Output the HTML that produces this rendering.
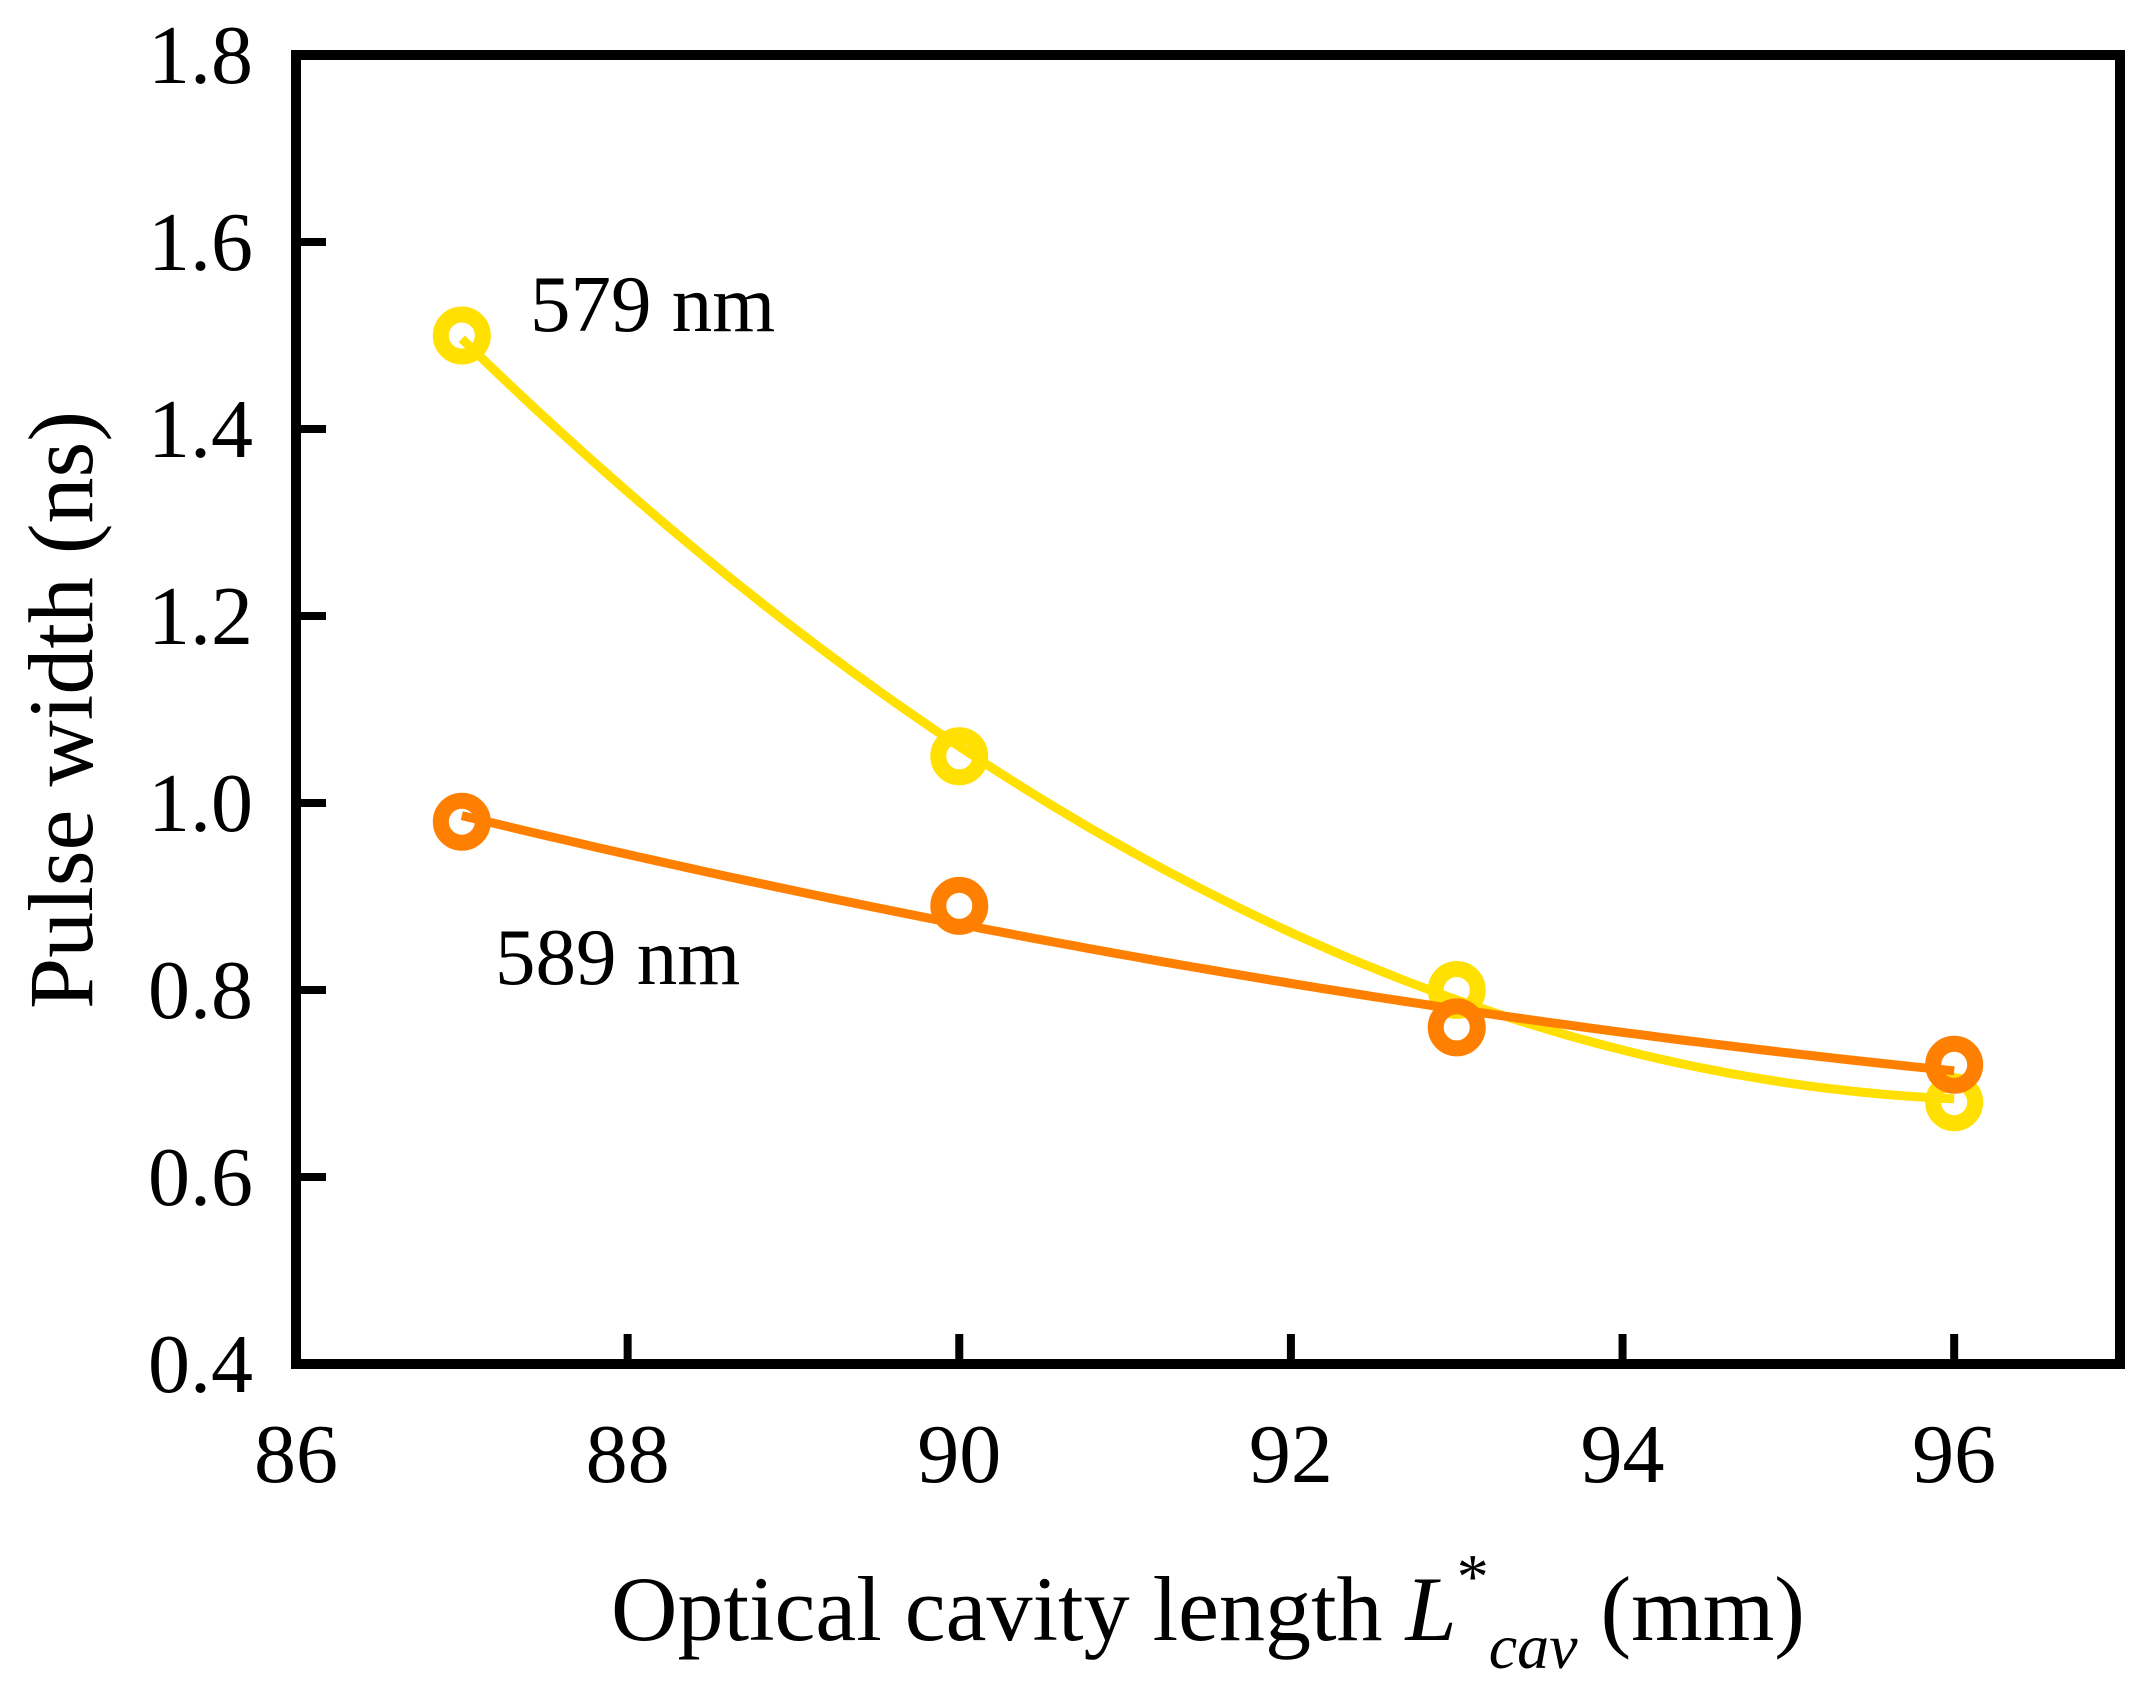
<!DOCTYPE html>
<html><head><meta charset="utf-8"><style>
html,body{margin:0;padding:0;background:#fff;}
svg{display:block;font-family:"Liberation Serif",serif;}
</style></head><body>
<svg id="chart" width="2137" height="1688" viewBox="0 0 2137 1688" xmlns="http://www.w3.org/2000/svg">
<rect width="2137" height="1688" fill="#fff"/>
<g id="series"></g>
<rect x="296" y="55" width="1824" height="1309" fill="none" stroke="#000" stroke-width="10"/>
<g id="axes"></g>
<text x="530" y="331" font-size="81">579 nm</text>
<text x="495" y="984" font-size="81">589 nm</text>
<text x="611" y="1640" font-size="92">Optical cavity length <tspan font-style="italic">L</tspan><tspan dy="-42" font-size="64">*</tspan><tspan dy="70" font-style="italic" font-size="64">cav</tspan><tspan dy="-28"> (mm)</tspan></text>
<text transform="translate(92,710) rotate(-90)" text-anchor="middle" font-size="92">Pulse width (ns)</text>
</svg>
<script>
const xCats = [87, 90, 93, 96];
const y579 = [1.5, 1.05, 0.8, 0.68];
const y589 = [0.98, 0.89, 0.76, 0.72];
const xTicks = [86, 88, 90, 92, 94, 96];
const yTicks = [0.4, 0.6, 0.8, 1.0, 1.2, 1.4, 1.6, 1.8];

const X0 = 296, X1 = 2120, Y0 = 1364, Y1 = 55;
const xMin = 86, xMax = 97, yMin = 0.4, yMax = 1.8;
function sx(v){ return X0 + (v - xMin) / (xMax - xMin) * (X1 - X0); }
function sy(v){ return Y0 - (v - yMin) / (yMax - yMin) * (Y0 - Y1); }
const NS = "http://www.w3.org/2000/svg";

function quadFit(xs, ys){
  let S=[0,0,0,0,0], T=[0,0,0];
  for(let i=0;i<xs.length;i++){
    const x=xs[i]-90, y=ys[i];
    for(let k=0;k<5;k++) S[k]+=Math.pow(x,k);
    for(let k=0;k<3;k++) T[k]+=y*Math.pow(x,k);
  }
  const A=[[S[0],S[1],S[2],T[0]],[S[1],S[2],S[3],T[1]],[S[2],S[3],S[4],T[2]]];
  for(let i=0;i<3;i++){
    for(let j=i+1;j<3;j++){
      const f=A[j][i]/A[i][i];
      for(let k=i;k<4;k++) A[j][k]-=f*A[i][k];
    }
  }
  const c=[0,0,0];
  for(let i=2;i>=0;i--){
    let s=A[i][3];
    for(let k=i+1;k<3;k++) s-=A[i][k]*c[k];
    c[i]=s/A[i][i];
  }
  return x => c[0]+c[1]*(x-90)+c[2]*(x-90)*(x-90);
}

const series = document.getElementById('series');
function drawSeries(ys, color, name){
  const f = quadFit(xCats, ys);
  let d = "";
  const a = xCats[0], b = xCats[xCats.length-1];
  for(let i=0;i<=100;i++){
    const x = a + (b-a)*i/100;
    d += (i?"L":"M") + sx(x).toFixed(1) + "," + sy(f(x)).toFixed(1);
  }
  const p = document.createElementNS(NS,'path');
  p.setAttribute('d', d);
  p.setAttribute('fill','none');
  p.setAttribute('stroke', color);
  p.setAttribute('stroke-width','9');
  
  
  series.appendChild(p);
  xCats.forEach((x,i)=>{
    const c = document.createElementNS(NS,'circle');
    c.setAttribute('cx', sx(x));
    c.setAttribute('cy', sy(ys[i]));
    c.setAttribute('r', '21');
    c.setAttribute('fill', 'none');
    c.setAttribute('stroke', color);
    c.setAttribute('stroke-width', '16');
    
    
    series.appendChild(c);
  });
}
drawSeries(y579, '#FFE000', 'series-579nm');
drawSeries(y589, '#FF8000', 'series-589nm');

const axes = document.getElementById('axes');
xTicks.forEach(v=>{
  const l = document.createElementNS(NS,'line');
  l.setAttribute('x1', sx(v)); l.setAttribute('x2', sx(v));
  l.setAttribute('y1', Y0); l.setAttribute('y2', Y0-30);
  l.setAttribute('stroke','#000'); l.setAttribute('stroke-width','8');
  
  
  axes.appendChild(l);
  const t = document.createElementNS(NS,'text');
  t.setAttribute('x', sx(v)); t.setAttribute('y', 1482);
  t.setAttribute('text-anchor','middle'); t.setAttribute('font-size','84');
  t.textContent = v;
  
  
  axes.appendChild(t);
});
yTicks.forEach(v=>{
  const l = document.createElementNS(NS,'line');
  l.setAttribute('x1', X0); l.setAttribute('x2', X0+30);
  l.setAttribute('y1', sy(v)); l.setAttribute('y2', sy(v));
  l.setAttribute('stroke','#000'); l.setAttribute('stroke-width','8');
  
  
  axes.appendChild(l);
  const t = document.createElementNS(NS,'text');
  t.setAttribute('x', 253); t.setAttribute('y', sy(v)+28);
  t.setAttribute('text-anchor','end'); t.setAttribute('font-size','84');
  t.textContent = v.toFixed(1);
  
  
  axes.appendChild(t);
});
</script>
</body></html>
